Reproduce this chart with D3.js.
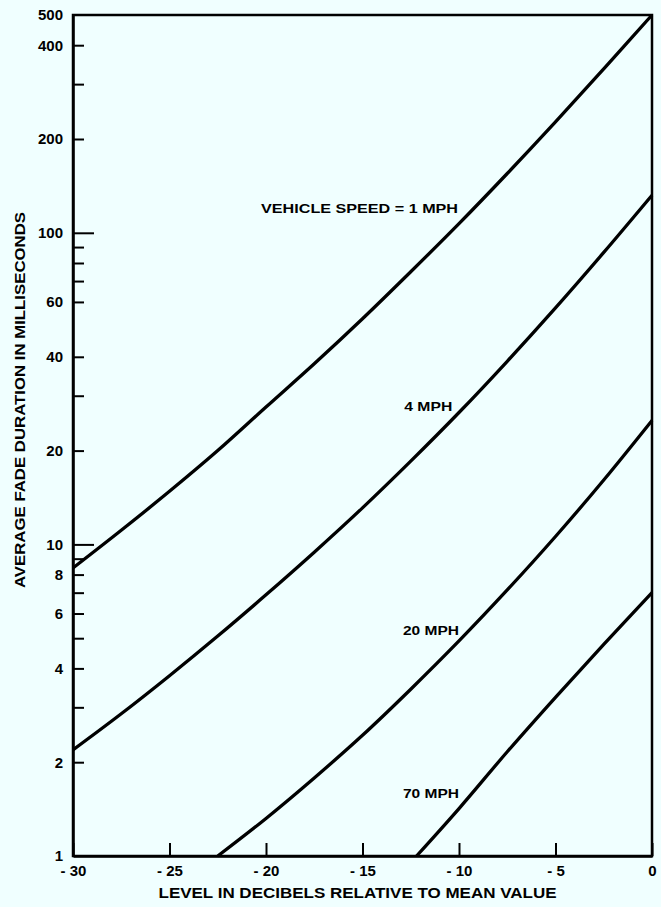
<!DOCTYPE html>
<html><head><meta charset="utf-8">
<script src="https://cdn.jsdelivr.net/npm/d3@7"></script>
<style>
body{margin:0;background:#f0ffff;}
svg{display:block;background:#f0ffff;}
text{font-family:"Liberation Sans",Arial,sans-serif;font-weight:bold;fill:#000;}
</style>
</head><body>
<svg id="c" width="661" height="907"></svg>
<script>
// ---- data ----
const xTicks = [-30, -25, -20, -15, -10, -5, 0];
const yLabelTicks = [1, 2, 4, 6, 8, 10, 20, 40, 60, 100, 200, 400, 500];
const yMinorTicks = [3, 5, 7, 9, 30, 70, 80, 90, 300];
const yLongTicks = [10, 100];
const speeds = ["VEHICLE SPEED = 1 MPH", "4 MPH", "20 MPH", "70 MPH"];
const mph1 = [[-30, 8.4], [-27.5, 11.1], [-25, 14.8], [-22.5, 20.0], [-20, 27.6], [-17.5, 38], [-15, 53], [-12.5, 75], [-10, 107], [-7.5, 155], [-5, 227], [-2.5, 336], [0, 500]];
const mph4 = [[-30, 2.19], [-27.5, 2.86], [-25, 3.79], [-22.5, 5.08], [-20, 6.89], [-17.5, 9.44], [-15, 13.1], [-12.5, 18.5], [-10, 26.5], [-7.5, 38.7], [-5, 57.4], [-2.5, 86.5], [0, 132]];
const mph20 = [[-22.5, 1], [-20, 1.32], [-17.5, 1.78], [-15, 2.44], [-12.5, 3.43], [-10, 4.9], [-7.5, 7.14], [-5, 10.6], [-2.5, 16.1], [0, 25]];
const mph70 = [[-12.2, 1], [-10, 1.42], [-7.5, 2.16], [-5, 3.23], [-2.5, 4.78], [0, 7.0]];
const series = [mph1, mph4, mph20, mph70];
const labelX = [-10.05, -10.35, -10.0, -10.0];
const labelY = [120, 27.8, 5.3, 1.59];
const xTitle = "LEVEL IN DECIBELS RELATIVE TO MEAN VALUE";
const yTitle = "AVERAGE FADE DURATION IN MILLISECONDS";

// ---- layout ----
const L = 73, R = 652, T = 15, B = 856;
const svg = d3.select("#c");
const x = d3.scaleLinear().domain([-30, 0]).range([L, R]);
const y = d3.scaleLog().domain([1, 500]).range([B, T]);
const FONT = '"Liberation Sans",Arial,sans-serif';

// frame
svg.append("rect").attr("x", L).attr("y", T).attr("width", R - L).attr("height", B - T)
  .attr("fill", "none").attr("stroke", "#000").attr("stroke-width", 2.5);

// y axis labeled ticks
const yAx = svg.append("g").attr("transform", `translate(${L},0)`)
  .call(d3.axisLeft(y).tickValues(yLabelTicks).tickFormat(d3.format("d"))
    .tickSizeInner(-11).tickSizeOuter(0).tickPadding(10));
yAx.select(".domain").attr("stroke-width", 2.5);
yAx.selectAll(".tick line").attr("stroke-width", 2)
  .filter(d => yLongTicks.includes(d)).attr("x2", 21);
yAx.selectAll(".tick").filter(d => d === 1 || d === 500).select("line").remove();
yAx.selectAll("text").attr("font-size", 15).style("font-family", FONT).style("font-weight", "bold");

// y minor ticks
const yMin = svg.append("g").attr("transform", `translate(${L},0)`)
  .call(d3.axisLeft(y).tickValues(yMinorTicks).tickFormat("").tickSizeInner(-11).tickSizeOuter(0));
yMin.select(".domain").remove();
yMin.selectAll(".tick line").attr("stroke-width", 2);

// x axis
const xAx = svg.append("g").attr("transform", `translate(0,${B})`)
  .call(d3.axisBottom(x).tickValues(xTicks)
    .tickFormat(d => d < 0 ? "- " + Math.abs(d) : String(d))
    .tickSizeInner(-13).tickSizeOuter(0).tickPadding(9));
xAx.select(".domain").attr("stroke-width", 2.5);
xAx.selectAll(".tick line").attr("stroke-width", 2);
xAx.selectAll("text").attr("font-size", 15).style("font-family", FONT).style("font-weight", "bold");

// curves
const line = d3.line().x(d => x(d[0])).y(d => y(d[1])).curve(d3.curveCatmullRom.alpha(0.5));
svg.append("g").selectAll("path").data(series).join("path")
  .attr("d", line).attr("fill", "none").attr("stroke", "#000").attr("stroke-width", 3.3)
  .attr("stroke-linejoin", "round");

// curve labels
svg.append("g").selectAll("text").data(speeds).join("text")
  .attr("x", (d, i) => x(labelX[i]))
  .attr("y", (d, i) => y(labelY[i]))
  .attr("text-anchor", "end").attr("dy", "0.35em")
  .attr("font-size", 13.5)
  .attr("textLength", (d, i) => i === 0 ? 197 : (i === 1 ? 48 : 56))
  .attr("lengthAdjust", "spacingAndGlyphs")
  .text(d => d);

// titles
svg.append("text").attr("x", (L + R) / 2 - 5).attr("y", 898)
  .attr("text-anchor", "middle").attr("font-size", 14.5)
  .attr("textLength", 398).attr("lengthAdjust", "spacingAndGlyphs")
  .text(xTitle);
svg.append("text").attr("transform", "translate(25,400) rotate(-90)")
  .attr("text-anchor", "middle").attr("font-size", 14.5)
  .attr("textLength", 376).attr("lengthAdjust", "spacingAndGlyphs")
  .text(yTitle);
</script>
</body></html>
